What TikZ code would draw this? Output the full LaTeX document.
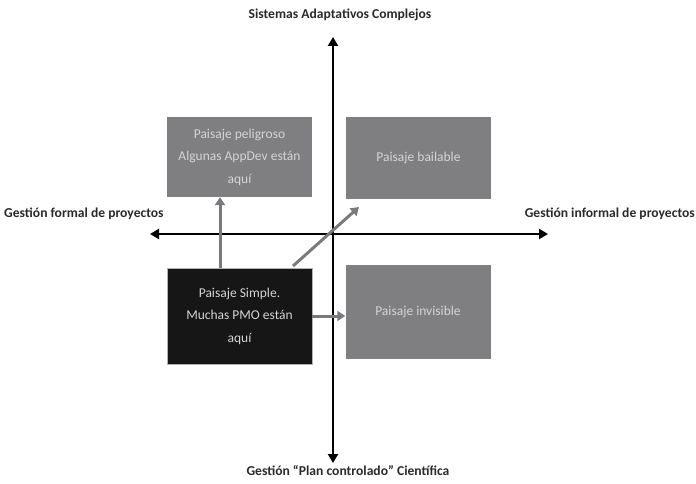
\documentclass[tikz,border=0pt]{standalone}
\usepackage{fontspec}
\setmainfont{Carlito}
\usetikzlibrary{arrows.meta}
\definecolor{boxgray}{HTML}{7F7F81}
\definecolor{boxdark}{HTML}{161616}
\definecolor{boxtext}{HTML}{D4D4D4}
\definecolor{linkgray}{HTML}{7A7A7C}
\definecolor{labeltext}{HTML}{2A2A2A}
\tikzset{
  quad/.style={fill=boxgray, draw=none, text=boxtext, align=center,
    font=\fontsize{13.5}{22.5}\selectfont, inner sep=0pt,
    minimum width=145pt},
  darkquad/.style={quad, fill=boxdark, draw=gray!60, line width=0.6pt},
  axis/.style={line width=2.8pt, black, -{Triangle[width=10pt,length=9pt]}},
  link/.style={line width=3pt, linkgray, -{Triangle[width=10pt,length=8pt]}},
  axislabel/.style={font=\bfseries\fontsize{13.6}{15}\selectfont, text=labeltext, inner sep=0pt}
}
\begin{document}
\begin{tikzpicture}[x=1pt, y=-1pt]
  \useasboundingbox (0,0) rectangle (696,484);

  % axes
  \coordinate (origin) at (333,234);
  \coordinate (xleft) at (150,234);
  \coordinate (xright) at (548,234);
  \coordinate (ytop) at (333,37);
  \coordinate (ybottom) at (333,463);
  \draw[axis] (origin) -- (xleft);
  \draw[axis] (origin) -- (xright);
  \draw[axis] (origin) -- (ytop);
  \draw[axis] (origin) -- (ybottom);

  % axis labels
  \node[axislabel] (top) at (340,15) {Sistemas Adaptativos Complejos};
  \node[axislabel] (bottom) at (348,471) {Gestión “Plan controlado” Científica};
  \node[axislabel, anchor=west] (left) at (4,214) {Gestión formal de proyectos};
  \node[axislabel, anchor=east] (right) at (695,214) {Gestión informal de proyectos};

  % quadrants
  \node[quad, minimum height=80pt] (peligroso) at (239.5,157)
    {Paisaje peligroso\\Algunas AppDev están\\aquí};
  \node[quad, minimum height=82pt] (bailable) at (418.5,158) {Paisaje bailable};
  \node[darkquad, minimum height=96pt] (simple) at (239.5,316)
    {Paisaje Simple.\\Muchas PMO están\\aquí};
  \node[quad, minimum height=94pt] (invisible) at (418,312) {Paisaje invisible};

  % transitions out of the simple landscape
  \coordinate (upx) at (220,0);
  \draw[link] (simple.north -| upx) -- (peligroso.south -| upx);
  \coordinate (diagstart) at (293,266);
  \coordinate (diagend) at (359,207);
  \draw[link] (diagstart) -- (diagend);
  \draw[link] (simple.east) -- (invisible.west |- simple.east);
\end{tikzpicture}
\end{document}
